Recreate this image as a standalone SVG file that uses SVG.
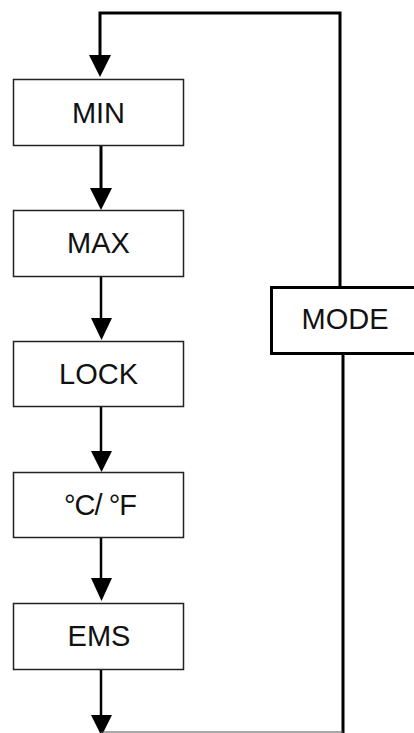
<svg xmlns="http://www.w3.org/2000/svg" width="414" height="733" viewBox="0 0 414 733">
<defs>
<style>
.box{fill:#fff;stroke:#222;stroke-width:1.5}
.mode{fill:#fff;stroke:#000;stroke-width:3}
.lbl{font-family:"Liberation Sans",Arial,sans-serif;font-size:29px;fill:#111;text-anchor:middle}
.c{fill:none;stroke:#000;stroke-width:3}
.c2{fill:none;stroke:#000;stroke-width:2.5}
.thin{fill:none;stroke:#555;stroke-width:1.2}
.ah{fill:#000}
</style>
</defs>
<g id="connectors">
<polyline class="c" points="340,287 340,13 100,13 100,56"/>
<polygon class="ah" points="89,55 111,55 100,77"/>
<line class="c" x1="101" y1="146" x2="101" y2="190"/>
<polygon class="ah" points="90,188 112,188 101,210"/>
<line class="c2" x1="101" y1="277" x2="101" y2="320"/>
<polygon class="ah" points="91,318 112,318 101.5,340"/>
<line class="c2" x1="101" y1="407" x2="101" y2="453"/>
<polygon class="ah" points="91,451 112,451 101.5,472"/>
<line class="c2" x1="101" y1="538" x2="101" y2="580"/>
<polygon class="ah" points="91,578 112,578 101.5,601"/>
<line class="c2" x1="101" y1="670" x2="101" y2="716"/>
<polygon class="ah" points="91,715 112,715 101.5,736"/>
<line class="c" x1="343" y1="354" x2="343" y2="733"/>
<line class="thin" x1="101" y1="732" x2="343" y2="732"/>
</g>
<g id="node-min"><rect class="box" x="13.5" y="79.5" width="170" height="66"/><text class="lbl" x="98.5" y="123">MIN</text></g>
<g id="node-max"><rect class="box" x="13.5" y="210.5" width="170" height="66"/><text class="lbl" x="98.5" y="253">MAX</text></g>
<g id="node-lock"><rect class="box" x="13.5" y="341.5" width="170" height="65"/><text class="lbl" x="98.5" y="384">LOCK</text></g>
<g id="node-unit"><rect class="box" x="13.5" y="472.5" width="170" height="65"/><text class="lbl" x="100" y="515" letter-spacing="-1">°C/ °F</text></g>
<g id="node-ems"><rect class="box" x="13.5" y="603.5" width="170" height="66"/><text class="lbl" x="99" y="646">EMS</text></g>
<g id="node-mode"><rect class="mode" x="271.5" y="287.5" width="146" height="66"/><text class="lbl" x="345" y="329">MODE</text></g>
</svg>
